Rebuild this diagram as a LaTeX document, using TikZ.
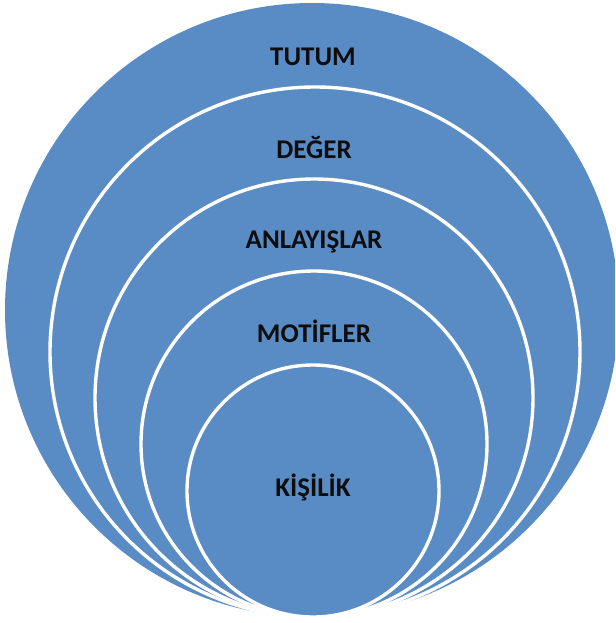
\documentclass[tikz,border=0pt]{standalone}
\usepackage{fontspec}
\setmainfont{Carlito}
\definecolor{ringblue}{RGB}{89,139,197}
\begin{document}
\begin{tikzpicture}[x=1pt,y=-1pt,
  ring/.style={circle,fill=ringblue,draw=white,line width=3.4pt,inner sep=0pt},
  outerring/.style={circle,fill=ringblue,draw=none,inner sep=0pt},
  lbl/.style={font=\fontsize{27}{30}\selectfont\bfseries,text=black!95,anchor=base,inner sep=0pt}]
\useasboundingbox (0,0) rectangle (615,623);
\clip (0,0) rectangle (615,623);
% nested rings, all touching at the bottom
\node[outerring,minimum size=614pt] (tutum) at (312,310) {};
\node[ring,minimum size=530pt] (deger) at (315,352) {};
\node[ring,minimum size=438pt] (anlayis) at (314,398) {};
\node[ring,minimum size=346pt] (motif) at (314,444) {};
\node[ring,minimum size=252pt] (kisilik) at (313,491) {};
% ring labels
\node[lbl] (tTutum) at (313,66) {TUTUM};
\node[lbl] (tDeger) at (314,158) {DEĞER};
\node[lbl] (tAnlayis) at (314,248) {ANLAYIŞLAR};
\node[lbl] (tMotif) at (314,342) {MOTİFLER};
\node[lbl] (tKisilik) at (313,496) {KİŞİLİK};
\end{tikzpicture}
\end{document}
